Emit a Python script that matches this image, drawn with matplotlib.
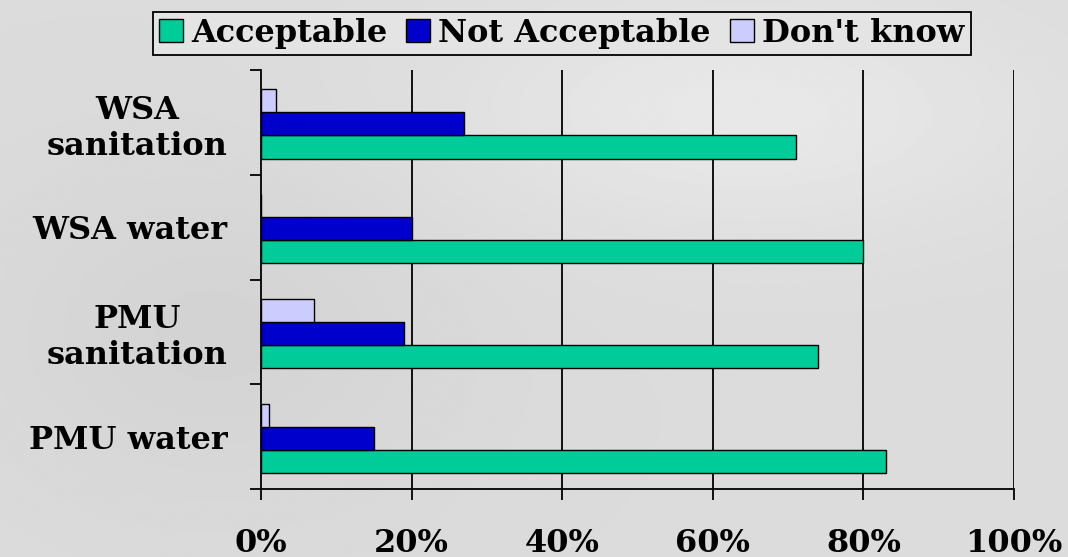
import numpy as np
import matplotlib
matplotlib.use("Agg")
import matplotlib.pyplot as plt
from matplotlib.patches import Patch

# Chart data
categories = ["PMU water", "PMU\nsanitation", "WSA water", "WSA\nsanitation"]
acceptable = [83, 74, 80, 71]
not_acceptable = [15, 19, 20, 27]
dont_know = [1, 7, 0, 2]
series_names = ["Acceptable", "Not Acceptable", "Don't know"]
x_ticks = [0, 20, 40, 60, 80, 100]
x_tick_labels = ["0%", "20%", "40%", "60%", "80%", "100%"]

colors = ["#00CC99", "#0000CC", "#CCCCFF"]
font = {"family": ["DejaVu Serif"], "weight": "bold", "size": 23}

fig = plt.figure(figsize=(10.68, 5.57), dpi=100)

# soft grey background standing in for the water texture
bg = fig.add_axes([0, 0, 1, 1], zorder=-10)
yy, xx = np.mgrid[0:1:200j, 0:1:300j]
shade = 0.86 + 0.05 * np.exp(-((xx - 0.7) ** 2 / 0.08 + (yy - 0.2) ** 2 / 0.05)) \
    - 0.03 * np.exp(-((xx - 0.2) ** 2 / 0.05 + (yy - 0.6) ** 2 / 0.1))
bg.imshow(shade, cmap="gray", vmin=0, vmax=1, aspect="auto", extent=[0, 1, 0, 1])
bg.axis("off")

ax = fig.add_axes([0.2444, 0.1221, 0.7050, 0.7522])
ax.set_facecolor("none")

y = np.arange(len(categories))
h = 0.22
ax.barh(y - 0.235, acceptable, height=h, color=colors[0], edgecolor="black", linewidth=1, zorder=3)
ax.barh(y - 0.015, not_acceptable, height=h, color=colors[1], edgecolor="black", linewidth=1, zorder=3)
ax.barh(y + 0.205, dont_know, height=h, color=colors[2], edgecolor="black", linewidth=1, zorder=3)

ax.set_xlim(0, 100)
ax.set_ylim(-0.5, 3.5)

# gridlines
for xv in x_ticks[1:]:
    ax.axvline(xv, color="black", linewidth=1.3, zorder=1)

ax.spines["top"].set_visible(False)
ax.spines["right"].set_visible(False)
ax.spines["left"].set_linewidth(1.3)
ax.spines["bottom"].set_linewidth(1.3)

ax.set_xticks(x_ticks)
ax.set_xticklabels(x_tick_labels, fontdict=font)
ax.tick_params(axis="x", direction="out", length=8, width=1.3, pad=20)

ax.set_yticks(y)
ax.set_yticklabels(categories, fontdict=font)
for lbl in ax.get_yticklabels():
    lbl.set_multialignment("center")
ax.set_yticks(np.arange(-0.5, 4, 1), minor=True)
ax.tick_params(axis="y", which="major", length=0, pad=24)
ax.tick_params(axis="y", which="minor", direction="out", length=8, width=1.3)

handles = [Patch(facecolor=c, edgecolor="black", linewidth=1) for c in colors]
leg = fig.legend(handles, series_names, loc="center", bbox_to_anchor=(0.526, 0.94),
                 ncol=3, prop=font, frameon=True, fancybox=False,
                 handlelength=0.75, handleheight=0.75, handletextpad=0.25,
                 columnspacing=0.6, borderpad=0.2, borderaxespad=0)
leg.get_frame().set_edgecolor("black")
leg.get_frame().set_linewidth(1.3)
leg.get_frame().set_facecolor("#e4e4e4")
leg.get_frame().set_alpha(1)

fig.savefig("out.png", dpi=100)
